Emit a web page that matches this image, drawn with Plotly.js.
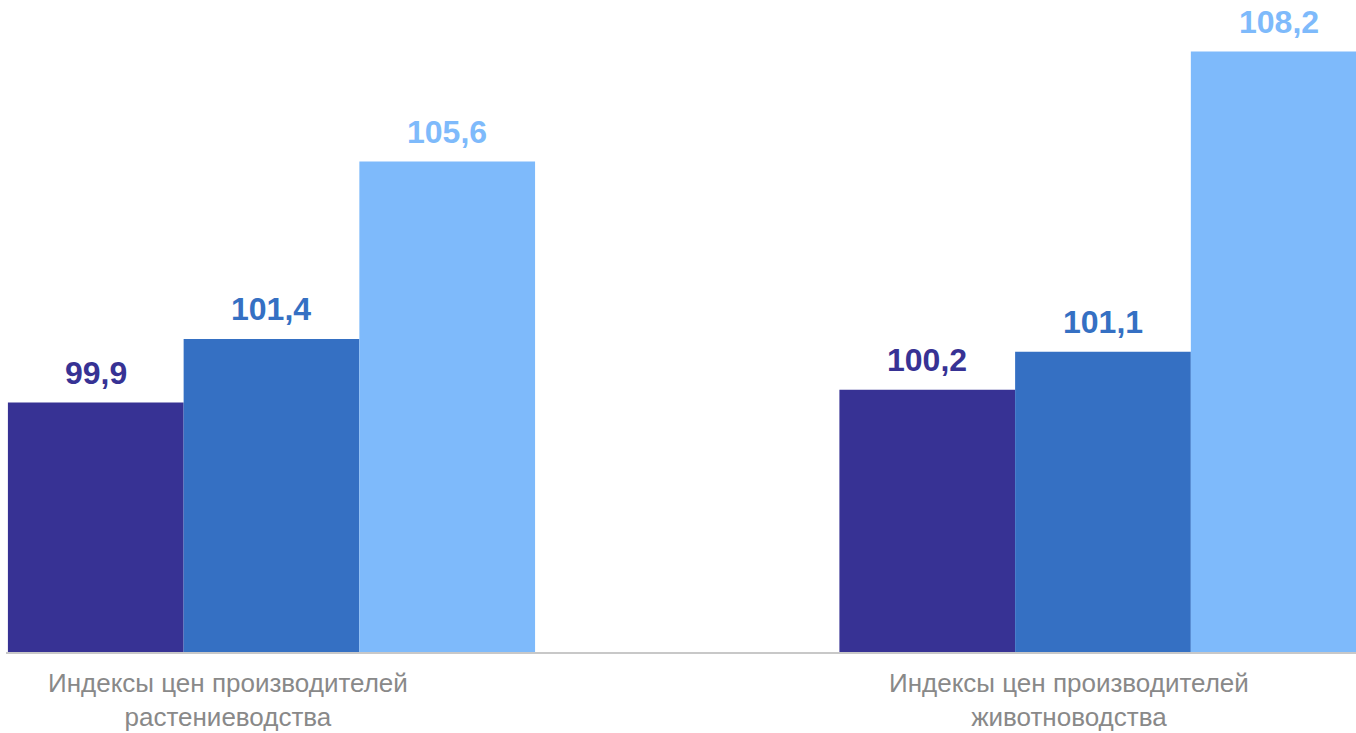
<!DOCTYPE html>
<html>
<head>
<meta charset="utf-8">
<script src="https://cdn.plot.ly/plotly-3.0.1.min.js"></script>
<style>html,body{margin:0;padding:0;background:#fff;}#chart{width:1356px;height:733px;}</style>
</head>
<body>
<div id="chart"></div>
<script>
const categories = ["Индексы цен производителей<br>растениеводства", "Индексы цен производителей<br>животноводства"];
const categoryKeys = ["cat0", "cat1"];
const seriesA = [99.9, 100.2];
const seriesB = [101.4, 101.1];
const seriesC = [105.6, 108.2];
const seriesColors = ["#373294", "#3570C3", "#7EBAFB"];
const allSeries = [seriesA, seriesB, seriesC];

const bargap = 0.366;
const traces = allSeries.map((vals, j) => ({
  type: 'bar',
  x: categoryKeys,
  y: vals,
  marker: {color: seriesColors[j], line: {width: 0}},
  hoverinfo: 'none',
  showlegend: false
}));

const barW = (1 - bargap) / allSeries.length;
const annotations = [];
allSeries.forEach((vals, j) => {
  vals.forEach((v, i) => {
    annotations.push({
      x: i + (j - (allSeries.length - 1) / 2) * barW,
      y: v,
      xref: 'x', yref: 'y',
      text: v.toFixed(1).replace('.', ','),
      showarrow: false,
      xanchor: 'center',
      yanchor: 'bottom',
      yshift: 10,
      font: {family: 'Liberation Sans, Arial, sans-serif', size: 32, color: seriesColors[j], weight: 'bold'}
    });
  });
});
const labelX = [0.1644, 0.7874];
categories.forEach((c, i) => {
  annotations.push({
    x: labelX[i], y: 0, xref: 'paper', yref: 'paper',
    text: c, showarrow: false, xanchor: 'center', yanchor: 'top', yshift: -15,
    align: 'center', borderpad: 0,
    font: {family: 'Liberation Sans, Arial, sans-serif', size: 26, color: '#898989'}
  });
});

const layout = {
  width: 1356, height: 733,
  margin: {l: 6, r: 0, t: 0, b: 81},
  paper_bgcolor: '#ffffff', plot_bgcolor: '#ffffff',
  barmode: 'group', bargap: bargap, bargroupgap: 0,
  xaxis: {
    type: 'category', range: [-0.3193, 1.3043],
    showline: true, linecolor: '#c8c8c8', linewidth: 2,
    showticklabels: false, ticks: '', showgrid: false, zeroline: false
  },
  yaxis: {
    range: [94, 109.42], showgrid: false, zeroline: false,
    showticklabels: false, ticks: '', showline: false
  },
  annotations: annotations
};

Plotly.newPlot('chart', traces, layout, {displayModeBar: false, staticPlot: true});
</script>
</body>
</html>
